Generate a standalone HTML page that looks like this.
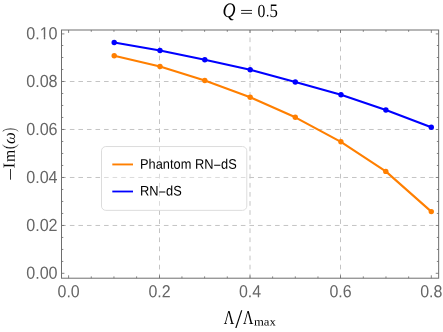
<!DOCTYPE html>
<html><head><meta charset="utf-8"><style>
html,body{margin:0;padding:0;background:#fff;}
body{width:443px;height:332px;position:relative;overflow:hidden;font-family:"Liberation Sans",sans-serif;}
</style></head><body>
<svg width="443" height="332" viewBox="0 0 443 332" style="position:absolute;left:0;top:0;will-change:transform">
<g stroke="#c4c4c4" stroke-width="1" stroke-dasharray="4.6 3.95" fill="none"><line x1="159.50" y1="278.20" x2="159.50" y2="30.00" stroke-dasharray="4.7 4.39" stroke-dashoffset="0.3"/><line x1="250.00" y1="278.20" x2="250.00" y2="30.00" stroke-dasharray="4.7 4.39" stroke-dashoffset="0.3"/><line x1="340.50" y1="278.20" x2="340.50" y2="30.00" stroke-dasharray="4.7 4.39" stroke-dashoffset="0.3"/><line x1="61.50" y1="225.46" x2="438.65" y2="225.46" stroke-dashoffset="0.2"/><line x1="61.50" y1="177.47" x2="438.65" y2="177.47" stroke-dashoffset="0.2"/><line x1="61.50" y1="129.48" x2="438.65" y2="129.48" stroke-dashoffset="0.2"/><line x1="61.50" y1="81.49" x2="438.65" y2="81.49" stroke-dashoffset="0.2"/></g>
<g stroke="#666" stroke-width="0.8" fill="none"><line x1="68.60" y1="278.20" x2="68.60" y2="275.30"/><line x1="68.60" y1="30.00" x2="68.60" y2="32.90"/><line x1="91.27" y1="278.20" x2="91.27" y2="276.40"/><line x1="91.27" y1="30.00" x2="91.27" y2="31.80"/><line x1="113.94" y1="278.20" x2="113.94" y2="276.40"/><line x1="113.94" y1="30.00" x2="113.94" y2="31.80"/><line x1="136.61" y1="278.20" x2="136.61" y2="276.40"/><line x1="136.61" y1="30.00" x2="136.61" y2="31.80"/><line x1="159.50" y1="278.20" x2="159.50" y2="275.30"/><line x1="159.50" y1="30.00" x2="159.50" y2="32.90"/><line x1="181.95" y1="278.20" x2="181.95" y2="276.40"/><line x1="181.95" y1="30.00" x2="181.95" y2="31.80"/><line x1="204.62" y1="278.20" x2="204.62" y2="276.40"/><line x1="204.62" y1="30.00" x2="204.62" y2="31.80"/><line x1="227.29" y1="278.20" x2="227.29" y2="276.40"/><line x1="227.29" y1="30.00" x2="227.29" y2="31.80"/><line x1="250.00" y1="278.20" x2="250.00" y2="275.30"/><line x1="250.00" y1="30.00" x2="250.00" y2="32.90"/><line x1="272.63" y1="278.20" x2="272.63" y2="276.40"/><line x1="272.63" y1="30.00" x2="272.63" y2="31.80"/><line x1="295.30" y1="278.20" x2="295.30" y2="276.40"/><line x1="295.30" y1="30.00" x2="295.30" y2="31.80"/><line x1="317.97" y1="278.20" x2="317.97" y2="276.40"/><line x1="317.97" y1="30.00" x2="317.97" y2="31.80"/><line x1="340.50" y1="278.20" x2="340.50" y2="275.30"/><line x1="340.50" y1="30.00" x2="340.50" y2="32.90"/><line x1="363.31" y1="278.20" x2="363.31" y2="276.40"/><line x1="363.31" y1="30.00" x2="363.31" y2="31.80"/><line x1="385.98" y1="278.20" x2="385.98" y2="276.40"/><line x1="385.98" y1="30.00" x2="385.98" y2="31.80"/><line x1="408.65" y1="278.20" x2="408.65" y2="276.40"/><line x1="408.65" y1="30.00" x2="408.65" y2="31.80"/><line x1="431.32" y1="278.20" x2="431.32" y2="275.30"/><line x1="431.32" y1="30.00" x2="431.32" y2="32.90"/><line x1="61.50" y1="273.30" x2="64.40" y2="273.30"/><line x1="438.65" y1="273.30" x2="435.75" y2="273.30"/><line x1="61.50" y1="261.45" x2="63.30" y2="261.45"/><line x1="438.65" y1="261.45" x2="436.85" y2="261.45"/><line x1="61.50" y1="249.45" x2="63.30" y2="249.45"/><line x1="438.65" y1="249.45" x2="436.85" y2="249.45"/><line x1="61.50" y1="237.46" x2="63.30" y2="237.46"/><line x1="438.65" y1="237.46" x2="436.85" y2="237.46"/><line x1="61.50" y1="225.46" x2="64.40" y2="225.46"/><line x1="438.65" y1="225.46" x2="435.75" y2="225.46"/><line x1="61.50" y1="213.46" x2="63.30" y2="213.46"/><line x1="438.65" y1="213.46" x2="436.85" y2="213.46"/><line x1="61.50" y1="201.46" x2="63.30" y2="201.46"/><line x1="438.65" y1="201.46" x2="436.85" y2="201.46"/><line x1="61.50" y1="189.47" x2="63.30" y2="189.47"/><line x1="438.65" y1="189.47" x2="436.85" y2="189.47"/><line x1="61.50" y1="177.47" x2="64.40" y2="177.47"/><line x1="438.65" y1="177.47" x2="435.75" y2="177.47"/><line x1="61.50" y1="165.47" x2="63.30" y2="165.47"/><line x1="438.65" y1="165.47" x2="436.85" y2="165.47"/><line x1="61.50" y1="153.47" x2="63.30" y2="153.47"/><line x1="438.65" y1="153.47" x2="436.85" y2="153.47"/><line x1="61.50" y1="141.48" x2="63.30" y2="141.48"/><line x1="438.65" y1="141.48" x2="436.85" y2="141.48"/><line x1="61.50" y1="129.48" x2="64.40" y2="129.48"/><line x1="438.65" y1="129.48" x2="435.75" y2="129.48"/><line x1="61.50" y1="117.48" x2="63.30" y2="117.48"/><line x1="438.65" y1="117.48" x2="436.85" y2="117.48"/><line x1="61.50" y1="105.48" x2="63.30" y2="105.48"/><line x1="438.65" y1="105.48" x2="436.85" y2="105.48"/><line x1="61.50" y1="93.49" x2="63.30" y2="93.49"/><line x1="438.65" y1="93.49" x2="436.85" y2="93.49"/><line x1="61.50" y1="81.49" x2="64.40" y2="81.49"/><line x1="438.65" y1="81.49" x2="435.75" y2="81.49"/><line x1="61.50" y1="69.49" x2="63.30" y2="69.49"/><line x1="438.65" y1="69.49" x2="436.85" y2="69.49"/><line x1="61.50" y1="57.50" x2="63.30" y2="57.50"/><line x1="438.65" y1="57.50" x2="436.85" y2="57.50"/><line x1="61.50" y1="45.50" x2="63.30" y2="45.50"/><line x1="438.65" y1="45.50" x2="436.85" y2="45.50"/><line x1="61.50" y1="33.90" x2="64.40" y2="33.90"/><line x1="438.65" y1="33.90" x2="435.75" y2="33.90"/></g>
<polyline points="114.2,55.8 160.0,66.5 204.8,80.5 250.2,97.2 295.3,117.3 340.9,141.8 385.8,171.4 431.3,211.6" fill="none" stroke="#ff7f00" stroke-width="2.1" stroke-linejoin="round"/><circle cx="114.2" cy="55.8" r="2.7" fill="#ff7f00"/><circle cx="160.0" cy="66.5" r="2.7" fill="#ff7f00"/><circle cx="204.8" cy="80.5" r="2.7" fill="#ff7f00"/><circle cx="250.2" cy="97.2" r="2.7" fill="#ff7f00"/><circle cx="295.3" cy="117.3" r="2.7" fill="#ff7f00"/><circle cx="340.9" cy="141.8" r="2.7" fill="#ff7f00"/><circle cx="385.8" cy="171.4" r="2.7" fill="#ff7f00"/><circle cx="431.3" cy="211.6" r="2.7" fill="#ff7f00"/>
<polyline points="114.2,42.5 160.0,50.5 204.8,59.8 250.2,69.8 295.3,82.0 341.0,94.8 385.9,110.0 431.3,127.3" fill="none" stroke="#0000ff" stroke-width="2.1" stroke-linejoin="round"/><circle cx="114.2" cy="42.5" r="2.7" fill="#0000ff"/><circle cx="160.0" cy="50.5" r="2.7" fill="#0000ff"/><circle cx="204.8" cy="59.8" r="2.7" fill="#0000ff"/><circle cx="250.2" cy="69.8" r="2.7" fill="#0000ff"/><circle cx="295.3" cy="82.0" r="2.7" fill="#0000ff"/><circle cx="341.0" cy="94.8" r="2.7" fill="#0000ff"/><circle cx="385.9" cy="110.0" r="2.7" fill="#0000ff"/><circle cx="431.3" cy="127.3" r="2.7" fill="#0000ff"/>
<rect x="61.50" y="30.00" width="377.15" height="248.20" fill="none" stroke="#6e6e6e" stroke-width="1"/>
<rect x="101.5" y="146.55" width="145.3" height="63.8" rx="4.3" ry="4.3" fill="#ffffff" fill-opacity="0.4" stroke="#dcdcdc" stroke-width="1"/>
<line x1="112.3" y1="164.45" x2="133.0" y2="164.45" stroke="#ff7f00" stroke-width="1.9"/>
<line x1="112.3" y1="191.5" x2="133.0" y2="191.5" stroke="#0000ff" stroke-width="1.8"/>
<text transform="translate(222.510,17.102) rotate(0.03) scale(0.1800,0.2061)" font-family="Liberation Serif" font-style="italic" font-size="100" fill="#000" stroke="#fff" stroke-width="0.00" vector-effect="non-scaling-stroke">Q</text>
<path d="M241.1 10.45H252M241.1 13.35H252" stroke="#000" stroke-width="0.85" fill="none"/>
<text transform="translate(257.471,16.815) rotate(0.03) scale(0.1571,0.1852)" font-family="Liberation Serif" font-style="normal" font-size="100" fill="#000" stroke="#fff" stroke-width="0.00" vector-effect="non-scaling-stroke">0</text>
<text transform="translate(266.083,16.191) rotate(0.03) scale(0.1333,0.1391)" font-family="Liberation Serif" font-style="normal" font-size="100" fill="#000" stroke="#fff" stroke-width="0.00" vector-effect="non-scaling-stroke">.</text>
<text transform="translate(269.495,16.809) rotate(0.03) scale(0.1675,0.1910)" font-family="Liberation Serif" font-style="normal" font-size="100" fill="#000" stroke="#fff" stroke-width="0.00" vector-effect="non-scaling-stroke">5</text>
<text transform="translate(223.704,324.250) rotate(0.03) scale(0.1461,0.1962)" font-family="Liberation Serif" font-style="normal" font-size="100" fill="#000" stroke="#fff" stroke-width="0.00" vector-effect="non-scaling-stroke">Λ</text>
<text transform="translate(235.250,327.735) rotate(0.03) scale(0.2545,0.2647)" font-family="Liberation Serif" font-style="normal" font-size="100" fill="#000" stroke="#fff" stroke-width="0.00" vector-effect="non-scaling-stroke">/</text>
<text transform="translate(243.106,324.250) rotate(0.03) scale(0.1440,0.1962)" font-family="Liberation Serif" font-style="normal" font-size="100" fill="#000" stroke="#fff" stroke-width="0.00" vector-effect="non-scaling-stroke">Λ</text>
<text transform="translate(253.946,325.400) rotate(0.03) scale(0.1270,0.1170)" font-family="Liberation Serif" font-size="100" fill="#000" stroke="#fff" stroke-width="0" vector-effect="non-scaling-stroke">max</text>
<g transform="translate(14.6,179.6) rotate(-90)"><path d="M-0.1 -4.1H10.6" stroke="#000" stroke-width="0.8" fill="none"/><text transform="translate(11.419,0.000) rotate(0.03) scale(0.1660,0.1662)" font-family="Liberation Serif" font-style="normal" font-size="100" fill="#000" stroke="#fff" stroke-width="0.00" vector-effect="non-scaling-stroke">I</text><text transform="translate(17.689,0.100) rotate(0.03) scale(0.1554,0.1638)" font-family="Liberation Serif" font-style="normal" font-size="100" fill="#000" stroke="#fff" stroke-width="0.00" vector-effect="non-scaling-stroke">m</text><text transform="translate(30.106,0.227) rotate(0.03) scale(0.1765,0.1844)" font-family="Liberation Serif" font-style="normal" font-size="100" fill="#000" stroke="#fff" stroke-width="0.30" vector-effect="non-scaling-stroke">(</text><text transform="translate(35.718,0.323) rotate(0.03) scale(0.1664,0.1768)" font-family="Liberation Serif" font-style="italic" font-size="100" fill="#000" stroke="#fff" stroke-width="0.12" vector-effect="non-scaling-stroke">ω</text><text transform="translate(47.296,0.227) rotate(0.03) scale(0.1346,0.1844)" font-family="Liberation Serif" font-style="normal" font-size="100" fill="#000" stroke="#fff" stroke-width="0.30" vector-effect="non-scaling-stroke">)</text></g>
<text transform="translate(57.60,39.35) rotate(0.03) scale(0.16150,0.17500)" font-family="Liberation Sans" font-size="100" text-anchor="end" fill="#666">0.10</text>
<text transform="translate(57.60,86.94) rotate(0.03) scale(0.16150,0.17500)" font-family="Liberation Sans" font-size="100" text-anchor="end" fill="#666">0.08</text>
<text transform="translate(57.60,134.93) rotate(0.03) scale(0.16150,0.17500)" font-family="Liberation Sans" font-size="100" text-anchor="end" fill="#666">0.06</text>
<text transform="translate(57.60,182.92) rotate(0.03) scale(0.16150,0.17500)" font-family="Liberation Sans" font-size="100" text-anchor="end" fill="#666">0.04</text>
<text transform="translate(57.60,230.91) rotate(0.03) scale(0.16150,0.17500)" font-family="Liberation Sans" font-size="100" text-anchor="end" fill="#666">0.02</text>
<text transform="translate(57.60,278.75) rotate(0.03) scale(0.16150,0.17500)" font-family="Liberation Sans" font-size="100" text-anchor="end" fill="#666">0.00</text>
<text transform="translate(68.60,297.15) rotate(0.03) scale(0.15950,0.17400)" font-family="Liberation Sans" font-size="100" text-anchor="middle" fill="#666">0.0</text>
<text transform="translate(159.50,297.15) rotate(0.03) scale(0.15950,0.17400)" font-family="Liberation Sans" font-size="100" text-anchor="middle" fill="#666">0.2</text>
<text transform="translate(250.00,297.15) rotate(0.03) scale(0.15950,0.17400)" font-family="Liberation Sans" font-size="100" text-anchor="middle" fill="#666">0.4</text>
<text transform="translate(340.50,297.15) rotate(0.03) scale(0.15950,0.17400)" font-family="Liberation Sans" font-size="100" text-anchor="middle" fill="#666">0.6</text>
<text transform="translate(431.32,297.15) rotate(0.03) scale(0.15950,0.17400)" font-family="Liberation Sans" font-size="100" text-anchor="middle" fill="#666">0.8</text>
<text transform="translate(140.00,168.80) rotate(0.03) scale(0.12850,0.13900)" font-family="Liberation Sans" font-size="100" text-anchor="start" fill="#000">Phantom RN<tspan dy="6.5">−</tspan><tspan dy="-6.5">dS</tspan></text>
<text transform="translate(140.00,195.55) rotate(0.03) scale(0.12850,0.13900)" font-family="Liberation Sans" font-size="100" text-anchor="start" fill="#000">RN<tspan dy="6.5">−</tspan><tspan dy="-6.5">dS</tspan></text>
<path d="M40.5 37.15H43.8V40.35H40.5ZM45.27 37.15H49.2V40.35H45.27Z" fill="#fff"/>
</svg>
</body></html>
